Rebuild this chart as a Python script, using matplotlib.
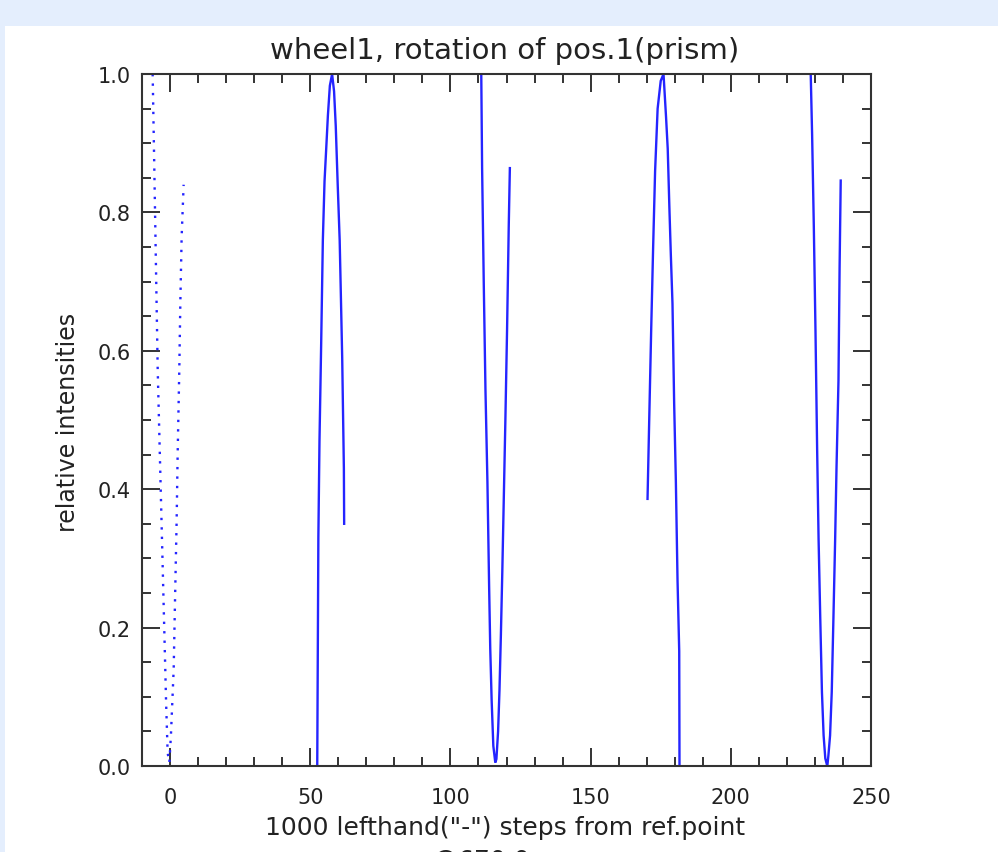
import matplotlib
matplotlib.use("Agg")
import matplotlib.pyplot as plt
from matplotlib.patches import Rectangle
from matplotlib.ticker import MultipleLocator, FormatStrFormatter

# ---- data ----
dot_x = [-6.2, -5.6, -5.0, -4.4, -3.8, -3.2, -2.6, -2.0, -1.4, -0.85,
         -0.25, 0.3, 1.3, 1.76, 2.36, 2.72, 3.3, 3.67, 4.14, 4.85]
dot_y = [1.0, 0.861, 0.717, 0.573, 0.476, 0.38, 0.284, 0.188, 0.091, 0.019,
         0.005, 0.043, 0.14, 0.236, 0.356, 0.452, 0.573, 0.669, 0.765, 0.84]

peak1_x = [52.5, 52.9, 53.3, 53.9, 54.5, 55.1, 55.8, 56.3, 57.0, 57.8,
           58.5, 59.1, 59.8, 60.5, 60.9, 61.4, 62.0, 62.1]
peak1_y = [0.0, 0.33, 0.47, 0.61, 0.76, 0.845, 0.9, 0.94, 0.983, 1.0,
           0.975, 0.925, 0.84, 0.76, 0.685, 0.59, 0.43, 0.35]

valley1_x = [111.0, 111.3, 111.9, 112.5, 113.2, 113.8, 114.2, 114.7, 115.3, 116.0,
             116.4, 117.0, 117.5, 118.0, 118.5, 119.0, 119.6, 120.2, 120.8, 121.2]
valley1_y = [1.0, 0.864, 0.695, 0.543, 0.410, 0.26, 0.17, 0.095, 0.029, 0.005,
             0.01, 0.05, 0.11, 0.19, 0.28, 0.38, 0.5, 0.63, 0.78, 0.864]

peak2_x = [170.3, 170.9, 171.6, 172.3, 173.0, 173.9, 175.0, 176.0,
           176.9, 177.5, 178.1, 178.6, 179.2, 179.8, 180.4, 181.0, 181.6, 181.7]
peak2_y = [0.386, 0.5, 0.63, 0.75, 0.86, 0.95, 0.99, 1.0,
           0.938, 0.892, 0.806, 0.74, 0.668, 0.523, 0.412, 0.268, 0.166, 0.0]

valley2_x = [228.5, 229.0, 229.6, 230.2, 230.8, 231.3, 231.9, 232.5, 233.1, 233.7, 234.2,
             234.5, 234.8, 235.4, 236.0, 236.6, 237.2, 237.7, 238.4, 238.8, 239.2]
valley2_y = [1.0, 0.912, 0.781, 0.629, 0.455, 0.329, 0.214, 0.107, 0.044, 0.011, 0.003,
             0.003, 0.015, 0.044, 0.107, 0.214, 0.325, 0.431, 0.557, 0.721, 0.846]

x_ticks = [0, 50, 100, 150, 200, 250]
y_ticks = [0.0, 0.2, 0.4, 0.6, 0.8, 1.0]

title = "wheel1, rotation of pos.1(prism)"
xlabel = '1000 lefthand("-") steps from ref.point'
xlabel2 = "@670.0 nm"
ylabel = "relative intensities"

# ---- figure ----
W, H = 998, 853
fig = plt.figure(figsize=(W / 100, H / 100), dpi=100)
fig.patch.set_facecolor("#e4eefd")
fig.patches.append(Rectangle((5 / W, 0), 1 - 5 / W, 1 - 27 / H,
                             transform=fig.transFigure, facecolor="white",
                             edgecolor="none", zorder=-10))

ax_l, ax_r, ax_t, ax_b = 142, 871, 75, 767
ax = fig.add_axes([ax_l / W, 1 - ax_b / H, (ax_r - ax_l) / W, (ax_b - ax_t) / H])
ax.set_zorder(5)
ax.set_facecolor("white")

blue = "#2424ff"
ax.plot(dot_x, dot_y, color=blue, lw=1.7, linestyle=(0, (1, 3.0)))
for xs, ys in [(peak1_x, peak1_y), (valley1_x, valley1_y),
               (peak2_x, peak2_y), (valley2_x, valley2_y)]:
    ax.plot(xs, ys, color=blue, lw=1.7, solid_joinstyle="miter")

ax.set_xlim(-10, 250)
ax.set_ylim(0, 1)
ax.set_xticks(x_ticks)
ax.set_yticks(y_ticks)
ax.xaxis.set_minor_locator(MultipleLocator(10))
ax.yaxis.set_minor_locator(MultipleLocator(0.05))
ax.yaxis.set_major_formatter(FormatStrFormatter("%.1f"))

edge = "#333333"
for s in ax.spines.values():
    s.set_color(edge)
    s.set_linewidth(1.5)

ax.tick_params(which="both", direction="in", top=True, right=True,
               color=edge, width=1.4, labelcolor="#222222", labelsize=15)
ax.tick_params(which="major", length=13)
ax.tick_params(which="minor", length=6.5)
ax.tick_params(axis="x", which="major", pad=15)
ax.tick_params(axis="y", which="major", pad=8)

fam = ["DejaVu Sans"]
fig.text(505 / W, 1 - 51 / H, title, ha="center", va="center",
         fontsize=21, color="#222222", family=fam)
fig.text(505 / W, 1 - 828 / H, xlabel, ha="center", va="center",
         fontsize=18, color="#222222", family=fam)
fig.text(505 / W, 1 - 861 / H, xlabel2, ha="center", va="center",
         fontsize=18, color="#222222", family=fam)
fig.text(68 / W, 1 - 422 / H, ylabel, ha="center", va="center", rotation=90,
         fontsize=17, color="#222222", family=fam)

fig.savefig("out.png", dpi=100, facecolor=fig.get_facecolor())
